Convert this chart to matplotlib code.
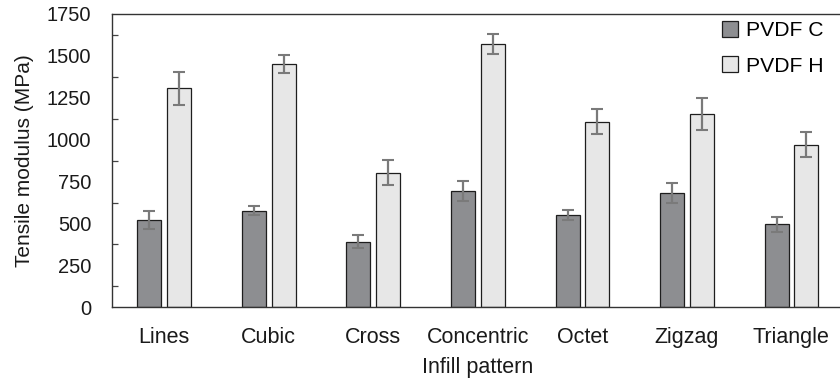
import matplotlib.pyplot as plt
import numpy as np

plt.rcParams['font.family'] = ['Liberation Sans', 'DejaVu Sans']

patterns = ["Lines", "Cubic", "Cross", "Concentric", "Octet", "Zigzag", "Triangle"]
pvdf_c = [521, 576, 391, 694, 551, 684, 495]
pvdf_c_err = [55, 28, 40, 60, 31, 60, 46]
pvdf_h = [1307, 1452, 803, 1571, 1107, 1152, 970]
pvdf_h_err = [97, 52, 75, 60, 75, 97, 75]

DARK = "#8d8e91"
LIGHT = "#e7e7e7"
EDGE = "#1e1e1e"
ERR = "#7a7a7a"
TXT = "#1a1a1a"

fig = plt.figure(figsize=(8.4, 3.81), dpi=100)
ax = fig.add_axes([112 / 840, 1 - 307.3 / 381, 731.7 / 840, 293.3 / 381])

x = np.arange(len(patterns))
w = 0.23
err_kw = dict(ecolor=ERR, elinewidth=1.6, capsize=4.3, capthick=1.5)
ax.bar(x - 0.142, pvdf_c, w, yerr=pvdf_c_err, color=DARK, edgecolor=EDGE,
       linewidth=0.9, error_kw=err_kw, label="PVDF C")
ax.bar(x + 0.142, pvdf_h, w, yerr=pvdf_h_err, color=LIGHT, edgecolor=EDGE,
       linewidth=0.9, error_kw=err_kw, label="PVDF H")

ax.set_xlim(-0.5, 6.5)
ax.set_ylim(0, 1750)
ax.set_yticks(np.arange(0, 1751, 250))
ax.set_yticks(np.arange(125, 1750, 250), minor=True)
ax.set_xticks(x)
ax.set_xticklabels(patterns)
ax.tick_params(axis="y", which="major", length=0, pad=15, labelsize=14.5, colors=TXT)
ax.tick_params(axis="y", which="minor", direction="in", length=4, width=0.9, color="#444444")
ax.tick_params(axis="x", length=0, pad=14, labelsize=15.5, colors=TXT)

for s in ["left", "top", "bottom", "right"]:
    ax.spines[s].set_color("#333333")
    ax.spines[s].set_linewidth(1.0)

ax.set_ylabel("Tensile modulus (MPa)", fontsize=15, color=TXT, labelpad=9)
ax.set_xlabel("Infill pattern", fontsize=15.5, color=TXT, labelpad=7)

# legend in the top right corner, without a frame
ax.legend(loc="upper right", bbox_to_anchor=(0.985, 1.008), frameon=False, fontsize=15.2,
          handlelength=0.78, handleheight=0.78, handletextpad=0.35, labelspacing=0.75,
          borderaxespad=0.15, borderpad=0.3)

plt.savefig("out.png", dpi=100)
